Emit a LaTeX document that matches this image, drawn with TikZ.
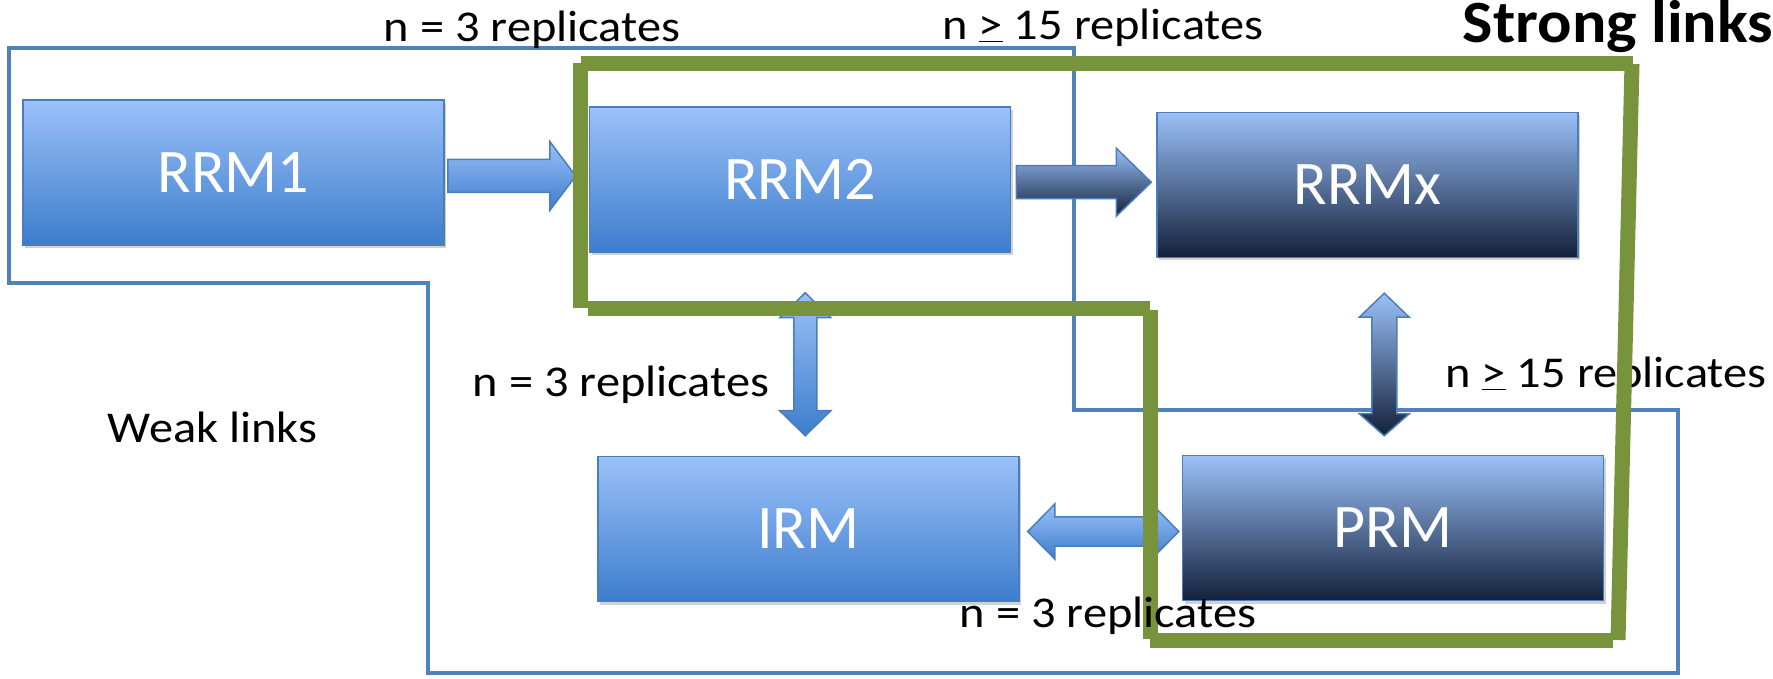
\documentclass[tikz,border=0pt]{standalone}
\usepackage{fontspec}
\setmainfont{Carlito}
\newfontfamily\widefont[FakeStretch=1.1]{Carlito}
\newfontfamily\widebold[FakeStretch=1.07]{Carlito Bold}
\usetikzlibrary{positioning, calc, shadows}

\definecolor{weakblue}{HTML}{4F81BD}
\definecolor{stronggreen}{HTML}{77933C}
\definecolor{boxtop}{HTML}{9BC1F9}
\definecolor{boxbot}{HTML}{3D7DCC}
\definecolor{boxnavy}{HTML}{13203A}
\definecolor{boxline}{HTML}{4A7EBB}

\begin{document}
\begin{tikzpicture}[x=1pt, y=1pt,
  box/.style={draw=boxline, line width=1.5pt, minimum width=421pt, minimum height=145pt, inner sep=0pt,
    top color=boxtop, bottom color=boxbot, text=white, font=\fontsize{62}{70}\selectfont,
    drop shadow={shadow xshift=2pt, shadow yshift=-3pt, opacity=.3, fill=black!60}},
  darkbox/.style={box, bottom color=boxnavy},
  flow/.style={draw=boxline, line width=1.5pt, top color=boxtop, bottom color=boxbot},
  darkflow/.style={flow, bottom color=boxnavy},
  lbl/.style={font=\widefont\fontsize{44}{50}\selectfont, inner sep=0pt, anchor=base},
  weak/.style={draw=weakblue, line width=4.5pt, line join=miter},
  strong/.style={draw=stronggreen, line width=15pt, line cap=butt},
  ]
  \useasboundingbox (0,0) rectangle (1773,678);

  % weak links frame
  \draw[weak] (9,630) -- (1074,630) -- (1074,268) -- (1678,268) -- (1678,5) -- (428,5) -- (428,395) -- (9,395) -- cycle;

  % modules
  \node[box] (RRM1) at (233.5,505.5) {RRM1};
  \node[box, right=144pt of RRM1, yshift=-7pt] (RRM2) {RRM2};
  \node[darkbox, right=145pt of RRM2, yshift=-5.5pt] (RRMx) {RRMx};
  \node[box, below=203pt of RRM2, xshift=8.5pt] (IRM) {IRM};
  \node[darkbox, right=162pt of IRM, yshift=1pt] (PRM) {PRM};

  % block arrows
  \shadedraw[flow] let \p1=(RRM1.east), \p2=(RRM2.west), \n1={(\y1+\y2)/2} in
    ({\x1+3},{\n1+16.5}) -- ({\x2-39},{\n1+16.5}) -- ({\x2-39},{\n1+34.5}) -- ({\x2-13},\n1)
    -- ({\x2-39},{\n1-34.5}) -- ({\x2-39},{\n1-16.5}) -- ({\x1+3},{\n1-16.5}) -- cycle;
  \shadedraw[darkflow] let \p1=(RRM2.east), \p2=(RRMx.west), \n1={(\y1+\y2)/2} in
    ({\x1+5},{\n1+16.5}) -- ({\x2-40},{\n1+16.5}) -- ({\x2-40},{\n1+34}) -- ({\x2-5},\n1)
    -- ({\x2-40},{\n1-34}) -- ({\x2-40},{\n1-16.5}) -- ({\x1+5},{\n1-16.5}) -- cycle;
  \shadedraw[flow] let \p1=(RRM2.south), \p2=(IRM.north), \n1={(\x1+\x2)/2+1} in
    (\n1,{\y1-40}) -- ({\n1+25.5},{\y1-65}) -- ({\n1+11.5},{\y1-65}) -- ({\n1+11.5},{\y2+45})
    -- ({\n1+25.5},{\y2+45}) -- (\n1,{\y2+20}) -- ({\n1-25.5},{\y2+45}) -- ({\n1-11.5},{\y2+45})
    -- ({\n1-11.5},{\y1-65}) -- ({\n1-25.5},{\y1-65}) -- cycle;
  \shadedraw[darkflow] let \p1=(RRMx.south), \p2=(PRM.north), \n1={(\x1+\x2)/2+4} in
    (\n1,{\y1-35}) -- ({\n1+25},{\y1-59}) -- ({\n1+12.5},{\y1-59}) -- ({\n1+12.5},{\y2+41})
    -- ({\n1+25},{\y2+41}) -- (\n1,{\y2+19}) -- ({\n1-25},{\y2+41}) -- ({\n1-12.5},{\y2+41})
    -- ({\n1-12.5},{\y1-59}) -- ({\n1-25},{\y1-59}) -- cycle;
  \shadedraw[flow] let \p1=(IRM.east), \p2=(PRM.west), \n1={(\y1+\y2)/2-3} in
    ({\x1+8},\n1) -- ({\x1+35},{\n1+27.5}) -- ({\x1+35},{\n1+14.5}) -- ({\x2-30},{\n1+14.5})
    -- ({\x2-30},{\n1+27.5}) -- ({\x2-3},\n1) -- ({\x2-30},{\n1-27.5}) -- ({\x2-30},{\n1-14.5})
    -- ({\x1+35},{\n1-14.5}) -- ({\x1+35},{\n1-27.5}) -- cycle;

  \node[lbl] (repR) at (1606,290) {n \underline{>} 15 replicates};

  % strong links frame
  \draw[strong] (581,614) -- (1633,614);
  \draw[strong] (1632,614) -- (1618,38);
  \draw[strong] (1613,38) -- (1150,38);
  \draw[strong] (1150,39) -- (1150,368);
  \draw[strong] (1150,369) -- (588,369);
  \draw[strong] (580.5,615) -- (580.5,370);

  % labels
  \node[lbl] (repA) at (532,636) {n = 3 replicates};
  \node[lbl] (repB) at (1103,638) {n \underline{>} 15 replicates};
  \node[lbl, font=\widebold\fontsize{60}{70}\selectfont] (strong) at (1618,635) {Strong links};
  \node[lbl] (repC) at (621,281) {n = 3 replicates};
  \node[lbl] (weak) at (212.5,235) {Weak links};
  \node[lbl] (repD) at (1108,51) {n = 3 replicates};
\end{tikzpicture}
\end{document}
